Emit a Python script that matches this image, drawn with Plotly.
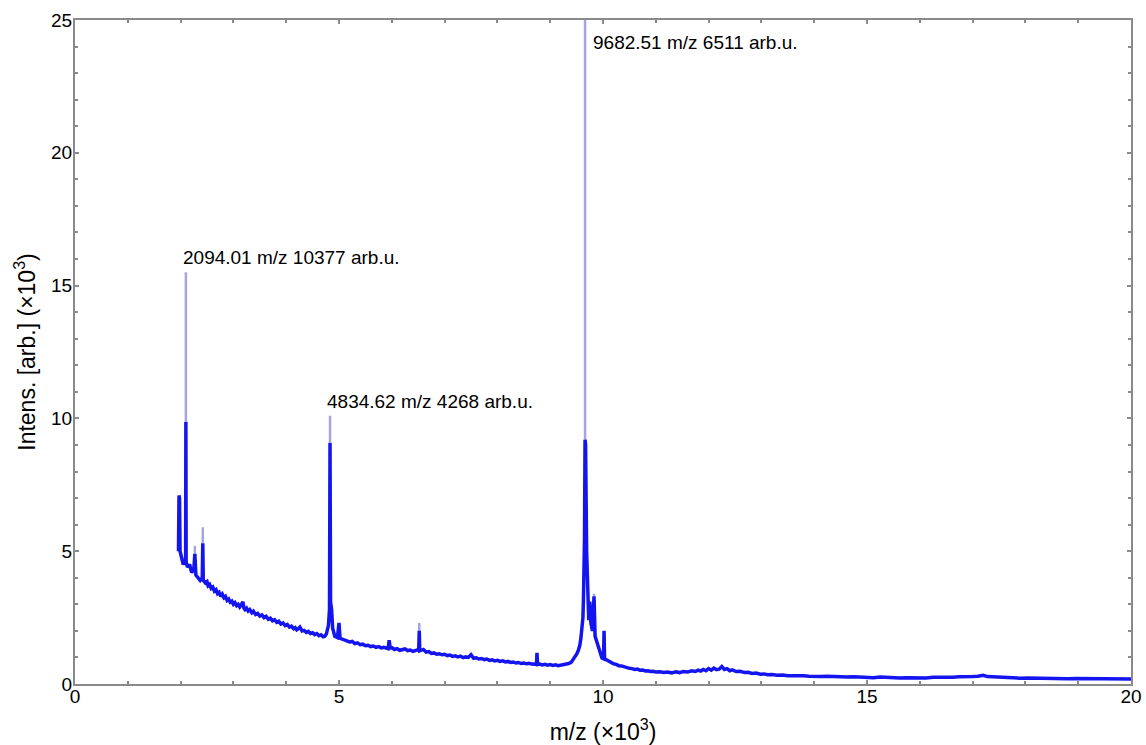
import plotly.graph_objects as go

# spectrum readings, m/z and intensity both in units of 10^3
mz = [1.96, 1.97, 1.98, 1.99, 2.02, 2.05, 2.08, 2.095, 2.10, 2.105, 2.13, 2.17, 2.21, 2.25,
      2.27, 2.29, 2.33, 2.37, 2.41, 2.42, 2.43, 2.47, 2.50, 2.52, 2.55, 2.58, 2.61, 2.64,
      2.67, 2.70, 2.73, 2.76, 2.79, 2.82, 2.85, 2.88, 2.91, 2.94, 2.97, 3.0, 3.03, 3.06,
      3.09, 3.12, 3.15, 3.18, 3.20, 3.22, 3.25, 3.28, 3.31, 3.35, 3.38, 3.42, 3.46, 3.5,
      3.54, 3.58, 3.62, 3.66, 3.70, 3.74, 3.78, 3.82, 3.86, 3.9, 3.94, 3.98, 4.02, 4.06,
      4.10, 4.14, 4.17, 4.2, 4.23, 4.26, 4.3, 4.34, 4.38, 4.42, 4.46, 4.50, 4.54, 4.58,
      4.62, 4.66, 4.7, 4.73, 4.76, 4.80, 4.82, 4.83, 4.84, 4.86, 4.88, 4.92, 4.97, 5.0,
      5.02, 5.08, 5.15, 5.20, 5.25, 5.30, 5.35, 5.40, 5.45, 5.50, 5.55, 5.60, 5.65, 5.70,
      5.75, 5.80, 5.85, 5.93, 5.95, 5.97, 6.01, 6.05, 6.10, 6.15, 6.20, 6.25, 6.30, 6.35,
      6.40, 6.45, 6.51, 6.52, 6.53, 6.6, 6.65, 6.70, 6.75, 6.80, 6.85, 6.90, 6.95, 7.0,
      7.05, 7.10, 7.15, 7.20, 7.25, 7.30, 7.35, 7.40, 7.45, 7.5, 7.55, 7.60, 7.65, 7.70,
      7.75, 7.80, 7.85, 7.90, 7.95, 8.0, 8.05, 8.10, 8.15, 8.20, 8.25, 8.30, 8.35, 8.40,
      8.45, 8.50, 8.55, 8.60, 8.65, 8.74, 8.75, 8.76, 8.80, 8.85, 8.90, 8.95, 9.0, 9.05,
      9.10, 9.15, 9.20, 9.25, 9.30, 9.35, 9.40, 9.43, 9.47, 9.5, 9.53, 9.56, 9.58, 9.6,
      9.62, 9.63, 9.65, 9.66, 9.67, 9.69, 9.71, 9.73, 9.75, 9.77, 9.8, 9.83, 9.85, 9.88,
      9.93, 9.98, 10.01, 10.02, 10.03, 10.1, 10.15, 10.2, 10.25, 10.3, 10.35, 10.4, 10.45,
      10.5, 10.55, 10.6, 10.65, 10.7, 10.75, 10.8, 10.85, 10.9, 10.95, 11.0, 11.08, 11.15,
      11.22, 11.3, 11.38, 11.45, 11.52, 11.6, 11.68, 11.75, 11.8, 11.85, 11.9, 11.95, 12.0,
      12.05, 12.1, 12.15, 12.2, 12.25, 12.3, 12.35, 12.4, 12.45, 12.52, 12.6, 12.68, 12.75,
      12.82, 12.9, 12.98, 13.05, 13.12, 13.2, 13.3, 13.4, 13.5, 13.6, 13.7, 13.8, 13.9, 14.0,
      14.12, 14.25, 14.38, 14.5, 14.62, 14.75, 14.88, 15.0, 15.12, 15.25, 15.38, 15.5,
      15.62, 15.75, 15.88, 16.0, 16.12, 16.25, 16.38, 16.5, 16.62, 16.75, 16.88, 17.0,
      17.1, 17.2, 17.28, 17.35, 17.48, 17.6, 17.75, 17.9, 18.05, 18.2, 18.35, 18.5, 18.65,
      18.8, 18.95, 19.1, 19.25, 19.4, 19.55, 19.7, 19.85, 20.0]
intensity = [5.0, 7.1, 7.0, 5.0, 4.8, 4.5, 4.6, 4.5, 9.86, 4.6, 4.4, 4.5, 4.2, 4.3,
             4.9, 4.1, 4.0, 3.9, 4.0, 5.3, 3.9, 3.8, 3.85, 3.7, 3.75, 3.6, 3.65, 3.5,
             3.55, 3.4, 3.45, 3.3, 3.38, 3.25, 3.3, 3.15, 3.2, 3.08, 3.12, 3.0, 3.06, 2.95,
             3.0, 2.9, 2.98, 3.1, 2.85, 2.8, 2.86, 2.75, 2.8, 2.68, 2.74, 2.62, 2.66, 2.56,
             2.6, 2.5, 2.55, 2.44, 2.48, 2.38, 2.42, 2.32, 2.36, 2.26, 2.3, 2.2, 2.24, 2.14,
             2.18, 2.08, 2.12, 2.04, 2.08, 2.14, 2.0, 2.02, 1.94, 1.98, 1.9, 1.93, 1.86, 1.9,
             1.82, 1.85, 1.78, 1.8, 1.88, 2.2, 2.8, 9.07, 3.1, 2.8, 2.1, 1.8, 1.75, 2.3,
             1.72, 1.66, 1.62, 1.58, 1.6, 1.52, 1.55, 1.48, 1.5, 1.44, 1.46, 1.41, 1.43, 1.38,
             1.41, 1.36, 1.38, 1.33, 1.65, 1.35, 1.36, 1.3, 1.33, 1.27, 1.3, 1.32, 1.26, 1.28,
             1.23, 1.27, 1.3, 2.0, 1.25, 1.3, 1.2, 1.22, 1.15, 1.17, 1.12, 1.14, 1.1, 1.12,
             1.07, 1.09, 1.04, 1.06, 1.02, 1.05, 0.99, 1.02, 1.0, 1.1, 0.97, 0.99, 0.94, 0.96,
             0.92, 0.94, 0.89, 0.91, 0.87, 0.89, 0.85, 0.87, 0.83, 0.85, 0.81, 0.83, 0.79, 0.81,
             0.77, 0.79, 0.76, 0.78, 0.75, 0.74, 1.17, 0.73, 0.75, 0.72, 0.74, 0.71, 0.73, 0.7,
             0.72, 0.69, 0.71, 0.72, 0.74, 0.77, 0.82, 0.9, 1.0, 1.12, 1.25, 1.45, 1.7, 2.0,
             2.5, 3.2, 5.5, 9.2, 9.0, 5.0, 2.8, 2.4, 3.1, 2.3, 2.0, 3.3, 1.8, 1.6,
             1.2, 0.98, 0.95, 2.0, 0.95, 0.86, 0.82, 0.76, 0.74, 0.69, 0.68, 0.64, 0.63,
             0.59, 0.58, 0.55, 0.56, 0.52, 0.53, 0.49, 0.5, 0.47, 0.48, 0.45, 0.46, 0.43,
             0.45, 0.42, 0.46, 0.43, 0.47, 0.45, 0.5, 0.47, 0.52, 0.49, 0.55, 0.5, 0.58,
             0.52, 0.6, 0.54, 0.56, 0.66, 0.55, 0.58, 0.5, 0.53, 0.47, 0.48, 0.43, 0.44,
             0.4, 0.41, 0.37, 0.38, 0.35, 0.36, 0.33, 0.34, 0.31, 0.32, 0.3, 0.31, 0.29, 0.3,
             0.28, 0.29, 0.27, 0.28, 0.26, 0.27, 0.25, 0.26, 0.24, 0.26, 0.24, 0.25,
             0.23, 0.24, 0.23, 0.24, 0.23, 0.25, 0.24, 0.26, 0.25, 0.27, 0.26, 0.28,
             0.29, 0.33, 0.28, 0.27, 0.25, 0.24, 0.23, 0.22, 0.23, 0.22, 0.21, 0.22, 0.21,
             0.2, 0.21, 0.21, 0.2, 0.2, 0.21, 0.2, 0.19, 0.19]

# faint tips of the sharp peaks (drawn lighter above the solid part)
peak_mz = [2.10, 2.27, 2.42, 4.83, 6.52, 9.66, 9.75, 9.83]
peak_base = [9.86, 4.9, 5.3, 9.07, 2.0, 9.2, 3.1, 3.3]
peak_top = [15.5, 5.2, 5.9, 10.1, 2.3, 26.0, 3.1, 3.4]

tip_x, tip_y = [], []
for m, b, t in zip(peak_mz, peak_base, peak_top):
    tip_x += [m, m, None]
    tip_y += [b, t, None]

font = "Arial, Liberation Sans, sans-serif"
axis_common = dict(
    showline=True, linecolor="#8a8a8a", linewidth=2, mirror="allticks",
    ticks="inside", ticklen=4, tickwidth=2, tickcolor="#8a8a8a",
    showgrid=False, zeroline=False, automargin=False,
    tickfont=dict(family=font, size=19, color="black"),
    minor=dict(dtick=1, ticks="inside", ticklen=3, tickwidth=2, tickcolor="#8a8a8a", showgrid=False),
)

fig = go.Figure()
fig.add_trace(go.Scatter(x=tip_x, y=tip_y, mode="lines",
                         line=dict(color="#a3a3e6", width=2.5), hoverinfo="skip"))
fig.add_trace(go.Scatter(x=mz, y=intensity, mode="lines",
                         line=dict(color="#1414f0", width=3.5)))

fig.update_layout(
    width=1146, height=745,
    showlegend=False,
    plot_bgcolor="white", paper_bgcolor="white",
    margin=dict(l=75, r=15, t=20, b=61, autoexpand=False),
    font=dict(family=font, size=19, color="black"),
    xaxis=dict(range=[0, 20], dtick=5, tick0=0, ticklabelstandoff=-6,
               title=dict(text="m/z (×10<sup>3</sup>)", standoff=23), **axis_common),
    yaxis=dict(range=[0, 25], dtick=5, tick0=0, ticklabelstandoff=-3,
               title=dict(text="Intens. [arb.] (×10<sup>3</sup>)", standoff=9), **axis_common),
    annotations=[
        dict(x=2.0, y=16.04, text="2094.01 m/z 10377 arb.u.", showarrow=False,
             xanchor="left", yanchor="middle"),
        dict(x=4.73, y=10.65, text="4834.62 m/z 4268 arb.u.", showarrow=False,
             xanchor="left", yanchor="middle"),
        dict(x=9.77, y=24.17, text="9682.51 m/z 6511 arb.u.", showarrow=False,
             xanchor="left", yanchor="middle"),
    ],
)

# drop the default 8px body margin so the figure fills the window exactly
fig.write_html("out.html", config={"displayModeBar": False},
               post_script="document.body.style.margin='0';")
